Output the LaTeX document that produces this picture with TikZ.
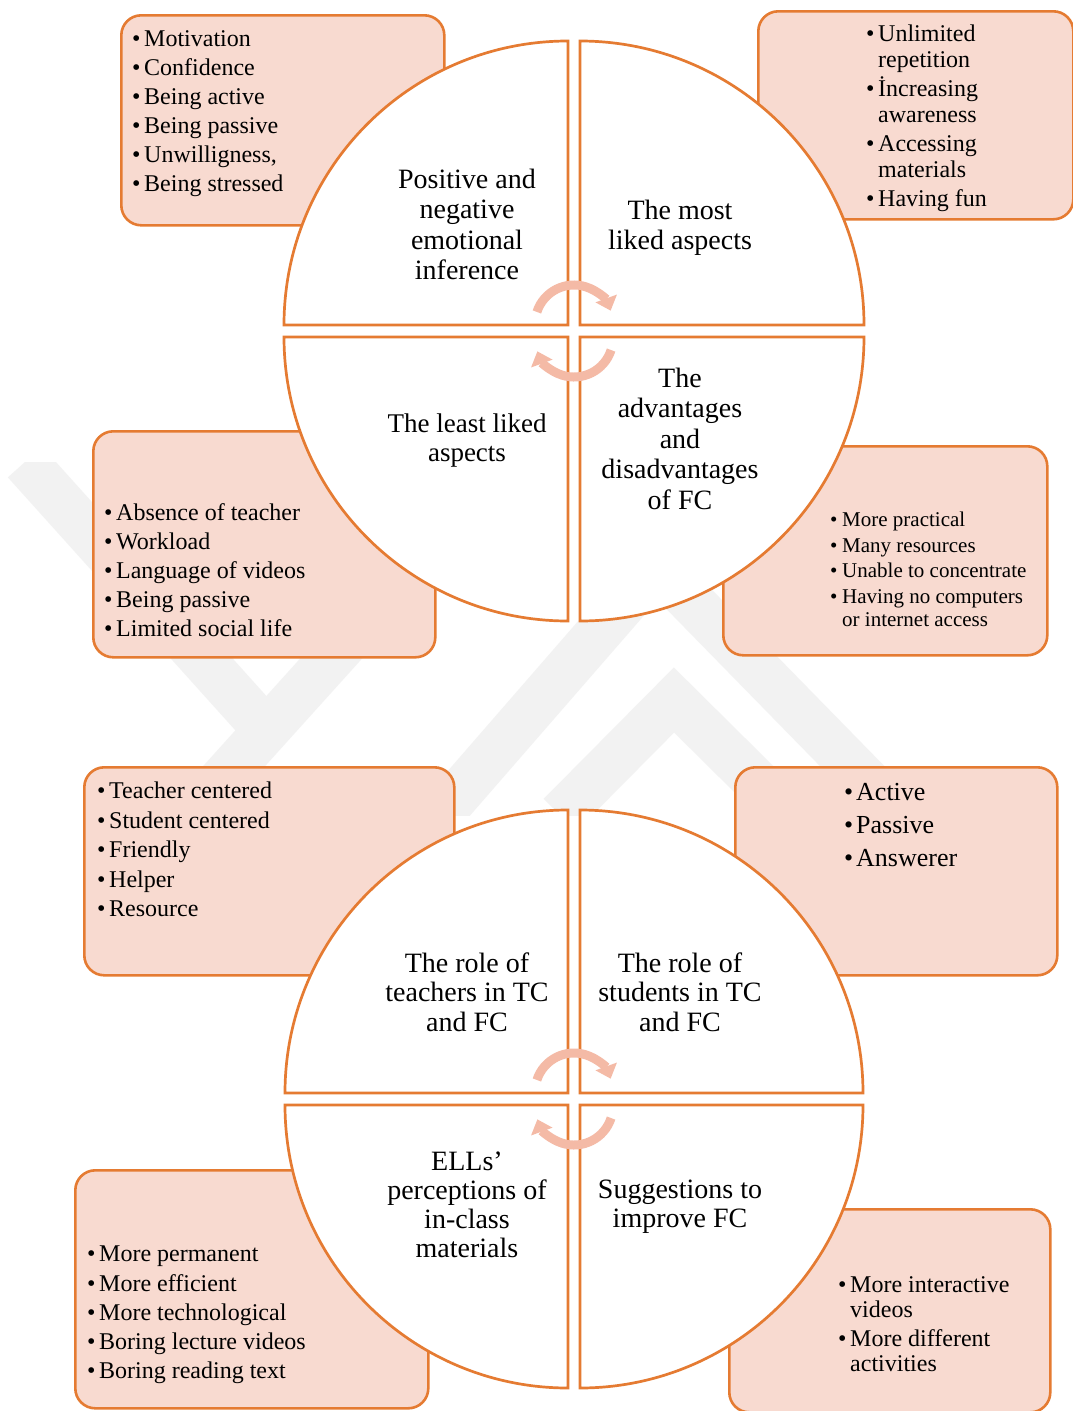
\documentclass[tikz,border=0pt]{standalone}
\usepackage{fontspec}
\setmainfont{Liberation Serif}
\usetikzlibrary{arrows.meta}
\definecolor{accor}{RGB}{229,123,50}
\definecolor{boxpink}{RGB}{248,218,208}
\definecolor{arrpink}{RGB}{244,186,166}
\definecolor{wmgray}{RGB}{242,242,242}
\newcommand{\bl}{\makebox[12pt][l]{\textbullet}}
\newcommand{\hg}{\hspace*{12pt}}
\begin{document}
\begin{tikzpicture}[x=1pt,y=1pt,
  infobox/.style={draw=accor, fill=boxpink, line width=2.6pt, rounded corners=20pt, anchor=north west, inner sep=0pt},
  quad/.style={draw=accor, fill=white, line width=2.7pt},
  lbl/.style={align=center, anchor=north, inner sep=0pt, font=\fontsize{28}{30.5}\selectfont},
  items/.style={align=left, anchor=north west, inner sep=0pt, font=\fontsize{24}{26}\selectfont},
  cyc/.style={draw=arrpink, line width=9pt, -{Triangle[width=22pt,length=13pt]}},
]
\useasboundingbox (0,0) rectangle (1073,-1411);
\fill[white] (0,0) rectangle (1073,-1411);

% faint watermark
\begin{scope}
\clip (0,-462) rectangle (1073,-815);
\draw[wmgray, line width=46pt] (25,-462) -- (275,-740);
\draw[wmgray, line width=46pt] (190,-815) -- (420,-560);
\draw[wmgray, line width=46pt] (440,-815) -- (640,-585);
\draw[wmgray, line width=46pt] (560,-815) -- (674,-700) -- (790,-815);
\draw[wmgray, line width=46pt] (680,-590) -- (900,-815);
\end{scope}

% ---------- top cycle: boxes ----------
\node[infobox, minimum width=323pt, minimum height=210pt] (b1) at (120,-14) {};
\node[infobox, minimum width=315pt, minimum height=208pt] (b2) at (757,-10) {};
\node[infobox, minimum width=342pt, minimum height=226pt] (b3) at (92,-430) {};
\node[infobox, minimum width=324pt, minimum height=209pt] (b4) at (722,-445) {};
% ---------- bottom cycle: boxes ----------
\node[infobox, minimum width=370pt, minimum height=208pt] (b5) at (83,-766) {};
\node[infobox, minimum width=322pt, minimum height=208pt] (b6) at (734,-766) {};
\node[infobox, minimum width=353pt, minimum height=238pt] (b7) at (74,-1169) {};
\node[infobox, minimum width=321pt, minimum height=203pt] (b8) at (728,-1208) {};

% ---------- quadrants ----------
\draw[quad] (568,-325) -- (284,-325) arc[start angle=180,end angle=90,radius=284] -- cycle;
\draw[quad] (580,-325) -- (580,-41) arc[start angle=90,end angle=0,radius=284] -- cycle;
\draw[quad] (568,-337) -- (568,-621) arc[start angle=270,end angle=180,radius=284] -- cycle;
\draw[quad] (580,-337) -- (864,-337) arc[start angle=0,end angle=-90,radius=284] -- cycle;

\draw[quad] (568,-1093) -- (285,-1093) arc[start angle=180,end angle=90,radius=283] -- cycle;
\draw[quad] (580,-1093) -- (580,-810) arc[start angle=90,end angle=0,radius=283] -- cycle;
\draw[quad] (568,-1105) -- (568,-1388) arc[start angle=270,end angle=180,radius=283] -- cycle;
\draw[quad] (580,-1105) -- (863,-1105) arc[start angle=0,end angle=-90,radius=283] -- cycle;

% ---------- cycle arrows ----------
\coordinate (u1) at (574,-324);
\coordinate (d1) at (574,-338);
\draw[cyc] ([shift={(162:39)}]u1) arc[start angle=162,end angle=20,radius=39];
\draw[cyc] ([shift={(-18:39)}]d1) arc[start angle=-18,end angle=-160,radius=39];
\coordinate (u2) at (574,-1092);
\coordinate (d2) at (574,-1106);
\draw[cyc] ([shift={(162:39)}]u2) arc[start angle=162,end angle=20,radius=39];
\draw[cyc] ([shift={(-18:39)}]d2) arc[start angle=-18,end angle=-160,radius=39];

% ---------- quadrant labels ----------
\node[lbl] (l1) at (467,-168.5) {Positive and\\negative\\emotional\\inference};
\node[lbl] (l2) at (680,-199.5) {The most\\liked aspects};
\node[lbl, font=\fontsize{27}{29}\selectfont] (l3) at (467,-413.5) {The least liked\\aspects};
\node[lbl] (l4) at (680,-367.5) {The\\advantages\\and\\disadvantages\\of FC};
\node[lbl, font=\fontsize{28}{29.5}\selectfont] (l5) at (467,-952.5) {The role of\\teachers in TC\\and FC};
\node[lbl, font=\fontsize{28}{29.5}\selectfont] (l6) at (680,-952.5) {The role of\\students in TC\\and FC};
\node[lbl, font=\fontsize{28}{29}\selectfont] (l7) at (467,-1151.5) {ELLs’\\perceptions of\\in-class\\materials};
\node[lbl, font=\fontsize{28}{29}\selectfont] (l8) at (680,-1179.5) {Suggestions to\\improve FC};

% ---------- box texts ----------
\node[items] (t1) at (132,-30) {\bl Motivation\\[3pt]\bl Confidence\\[3pt]\bl Being active\\[3pt]\bl Being passive\\[3pt]\bl Unwilligness,\\[3pt]\bl Being stressed};
\node[items] (t2) at (866,-25) {\bl Unlimited\\\hg repetition\\[3pt]\bl İncreasing\\\hg awareness\\[3pt]\bl Accessing\\\hg materials\\[3pt]\bl Having fun};
\node[items] (t3) at (104,-503) {\bl Absence of teacher\\[3pt]\bl Workload\\[3pt]\bl Language of videos\\[3pt]\bl Being passive\\[3pt]\bl Limited social life};
\node[items, font=\fontsize{21}{23}\selectfont] (t4) at (830,-512) {\bl More practical\\[2.6pt]\bl Many resources\\[2.6pt]\bl Unable to concentrate\\[2.6pt]\bl Having no computers\\\hg or internet access};
\node[items] (t5) at (97,-782) {\bl Teacher centered\\[3.5pt]\bl Student centered\\[3.5pt]\bl Friendly\\[3.5pt]\bl Helper\\[3.5pt]\bl Resource};
\node[items, font=\fontsize{26}{33}\selectfont] (t6) at (844,-783) {\bl Active\\\bl Passive\\\bl Answerer};
\node[items] (t7) at (87,-1246) {\bl More permanent\\[3.2pt]\bl More efficient\\[3.2pt]\bl More technological\\[3.2pt]\bl Boring lecture videos\\[3.2pt]\bl Boring reading text};
\node[items, font=\fontsize{24}{25}\selectfont] (t8) at (838,-1276) {\bl More interactive\\\hg videos\\[4pt]\bl More different\\\hg activities};
\end{tikzpicture}
\end{document}
